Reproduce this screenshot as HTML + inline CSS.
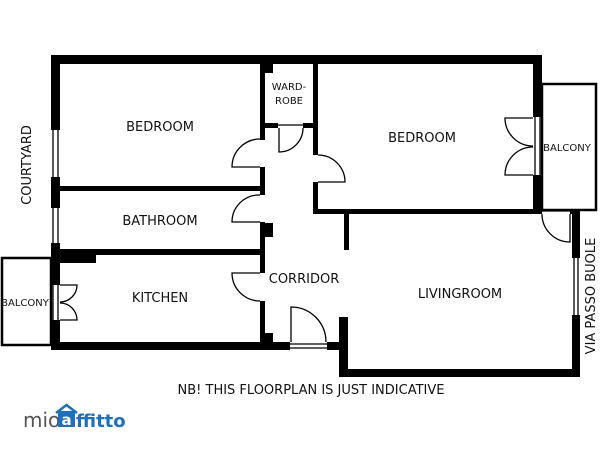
<!DOCTYPE html>
<html><head><style>
html,body{margin:0;padding:0;background:#fff;}
svg{display:block;}
text{font-family:"DejaVu Sans","Liberation Sans",sans-serif;fill:#111;}
</style></head><body>
<svg width="600" height="450" viewBox="0 0 600 450" xmlns="http://www.w3.org/2000/svg">
<rect width="600" height="450" fill="#fff"/>
<g fill="#000">
<rect x="51" y="55" width="491" height="9"/>
<rect x="51" y="55" width="9" height="75"/>
<rect x="51" y="177" width="9" height="31"/>
<rect x="51" y="243" width="9" height="42"/>
<rect x="51" y="320" width="9" height="30"/>
<rect x="60" y="186" width="205" height="5"/>
<rect x="60" y="249" width="205" height="6"/>
<rect x="60" y="249" width="36" height="14"/>
<rect x="51" y="342" width="239" height="8"/>
<rect x="327" y="342" width="21" height="8"/>
<rect x="260" y="55" width="5" height="85"/>
<rect x="260" y="167" width="5" height="28"/>
<rect x="260" y="222" width="5" height="51"/>
<rect x="260" y="301" width="5" height="49"/>
<rect x="265" y="223" width="8" height="14"/>
<rect x="265" y="333" width="8" height="9"/>
<rect x="265" y="64" width="8" height="9"/>
<rect x="265" y="123" width="13" height="5"/>
<rect x="303" y="123" width="15" height="5"/>
<rect x="313" y="55" width="5" height="100"/>
<rect x="313" y="182" width="5" height="32"/>
<rect x="313" y="209" width="229" height="5"/>
<rect x="570" y="209" width="10" height="5"/>
<rect x="533" y="55" width="9" height="62"/>
<rect x="533" y="175" width="9" height="39"/>
<rect x="572" y="209" width="8" height="49"/>
<rect x="572" y="315" width="8" height="62"/>
<rect x="339" y="369" width="241" height="8"/>
<rect x="339" y="317" width="9" height="60"/>
<rect x="344" y="214" width="5" height="36"/>
</g>
<g fill="none" stroke="#000" stroke-width="1.3">
<line x1="53" y1="130" x2="53" y2="177"/><line x1="58" y1="130" x2="58" y2="177"/>
<line x1="53" y1="208" x2="53" y2="243"/><line x1="58" y1="208" x2="58" y2="243"/>
<line x1="574" y1="258" x2="574" y2="315"/><line x1="578" y1="258" x2="578" y2="315"/>
<line x1="535" y1="117" x2="535" y2="175"/><line x1="540" y1="117" x2="540" y2="175"/>
<line x1="53" y1="285" x2="53" y2="320"/><line x1="58" y1="285" x2="58" y2="320"/>
<line x1="290" y1="344" x2="327" y2="344"/><line x1="290" y1="348" x2="327" y2="348"/>
<line x1="542" y1="211" x2="570" y2="211"/>
<line x1="278" y1="125" x2="303" y2="125"/>
<rect x="542" y="84" width="54" height="126" stroke-width="2.5"/>
<rect x="2" y="258" width="49" height="87" stroke-width="2.5"/>
<path d="M260 167 H232 A28 28 0 0 1 260 139"/>
<path d="M260 222 H232 A27 27 0 0 1 260 195"/>
<path d="M260 273 H232 A28 28 0 0 0 260 301"/>
<path d="M279 128 V152 A24 24 0 0 0 303 128"/>
<path d="M318 182 H345 A27 27 0 0 0 318 155"/>
<path d="M533 118 H505 A28 28 0 0 0 533 146"/>
<path d="M533 175 H505 A28 28 0 0 1 533 147"/>
<path d="M570 214 V242 A28 28 0 0 1 542 214"/>
<path d="M291 342 V307 A35 35 0 0 1 326 342"/>
<path d="M60 285 H77 A17 17 0 0 1 60 302"/>
<path d="M60 320 H77 A17 17 0 0 0 60 303"/>
</g>
<g font-size="13" text-anchor="middle">
<text x="160" y="131">BEDROOM</text>
<text x="160" y="225">BATHROOM</text>
<text x="160" y="302">KITCHEN</text>
<text x="422" y="142">BEDROOM</text>
<text x="304" y="283">CORRIDOR</text>
<text x="460" y="298">LIVINGROOM</text>
<text x="311" y="394">NB! THIS FLOORPLAN IS JUST INDICATIVE</text>
<text x="26" y="165" transform="rotate(-90 26 165)" dy="5">COURTYARD</text>
<text x="590" y="296" transform="rotate(-90 590 296)" dy="5">VIA PASSO BUOLE</text>
</g>
<g font-size="10" text-anchor="middle">
<text x="289" y="90">WARD-</text>
<text x="289" y="104">ROBE</text>
<text x="567" y="151">BALCONY</text>
<text x="25" y="306">BALCONY</text>
</g>
<g font-size="20">
<text x="23" y="427" style="fill:#555">mio</text>
<rect x="58" y="411" width="17" height="16" fill="#1f70b8"/>
<path d="M56 413 L66.5 405 L77 413" fill="none" stroke="#1f70b8" stroke-width="2.5"/>
<text x="66.5" y="425" font-size="15" text-anchor="middle" style="fill:#fff;font-weight:bold">a</text>
<text x="76" y="427" font-size="18" style="fill:#1f70b8;font-weight:bold">ffitto</text>
</g>
</svg>
</body></html>
